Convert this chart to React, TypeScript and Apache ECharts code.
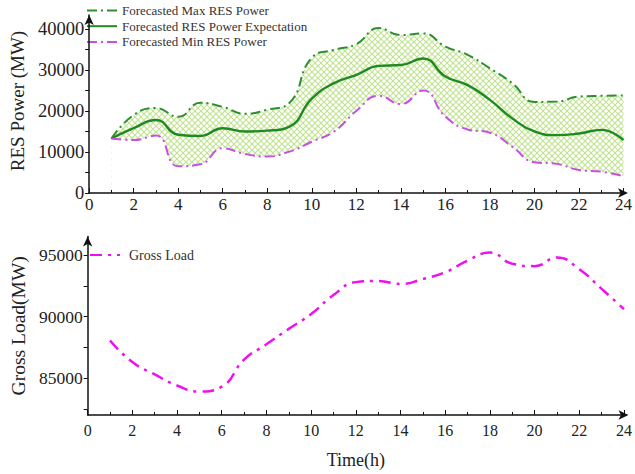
import React, { useEffect, useRef } from "react";
import * as echarts from "echarts";

const hours = [1, 2, 3, 4, 5, 6, 7, 8, 9, 10, 11, 12, 13, 14, 15, 16, 17, 18, 19, 20, 21, 22, 23, 24];
const maxRes = [13300, 19000, 20700, 18600, 22000, 21000, 19300, 20300, 22000, 33000, 34900, 36300, 40200, 38500, 38900, 35700, 33700, 30400, 26800, 22200, 22300, 23500, 23700, 23800];
const expRes = [13300, 15800, 17800, 14200, 13900, 15800, 15000, 15200, 16200, 23000, 26800, 28800, 31000, 31200, 32800, 28400, 26300, 22700, 18200, 15000, 14100, 14500, 15400, 12900];
const minRes = [13300, 12900, 14000, 6500, 7000, 10900, 9500, 8900, 10100, 12500, 15000, 20000, 23700, 21700, 25000, 18600, 15500, 14700, 11300, 7500, 7100, 5600, 5200, 4100];
const grossLoad = [88050, 86300, 85300, 84400, 83900, 84300, 86500, 87750, 89000, 90200, 91750, 92800, 92900, 92650, 93050, 93600, 94550, 95200, 94300, 94100, 94800, 93850, 92250, 90600];

const resLabelValues = [0, 10000, 20000, 30000, 40000];
const resTickValues = [0, 5000, 10000, 15000, 20000, 25000, 30000, 35000, 40000];
const loadLabelValues = [85000, 90000, 95000];
const loadTickValues = [82500, 85000, 87500, 90000, 92500, 95000];

const SERIF = "'Liberation Serif', 'Times New Roman', serif";

const hatchSvg =
  "<svg xmlns='http://www.w3.org/2000/svg' width='6' height='6'><path d='M0 0L6 6M6 0L0 6' stroke='#bfe38f' stroke-width='1.1' fill='none'/></svg>";
const hatchUrl = "data:image/svg+xml;charset=utf-8," + encodeURIComponent(hatchSvg);

export default function App() {
  const ref = useRef<HTMLDivElement>(null);

  useEffect(() => {
    if (!ref.current) return;
    const chart = echarts.init(ref.current, undefined, { renderer: "svg" });

    const pairs = (arr: number[]) => hours.map((h, i) => [h, arr[i]]);
    const plain = (v: number) => String(v);

    const xAxisCommon = (gridIndex: number, labelSize: number, margin: number) => ({
      type: "value" as const,
      gridIndex,
      min: 0,
      max: 24,
      interval: 2,
      z: 10,
      axisLine: {
        show: true,
        lineStyle: { color: "#111", width: 1.5 },
        symbol: ["none", "arrow"],
        symbolSize: [7, 10],
        symbolOffset: [0, 4.5],
      },
      axisTick: { show: true, inside: true, length: 5, lineStyle: { color: "#111", width: 1 } },
      minorTick: { show: true, splitNumber: 2, length: 3, lineStyle: { color: "#111", width: 1 } },
      splitLine: { show: false },
      minorSplitLine: { show: false },
      axisLabel: { fontFamily: SERIF, fontSize: labelSize, color: "#222", margin, formatter: plain },
    });

    const option: any = {
      animation: false,
      backgroundColor: "#fff",
      grid: [
        { left: 77, right: 9.5, top: 15, bottom: 281 },
        { left: 77, right: 9.5, top: 236.6, bottom: 59 },
      ],
      legend: [
        {
          orient: "vertical",
          left: 81,
          top: -1,
          itemWidth: 30,
          itemHeight: 14,
          itemGap: 2.7,
          itemStyle: { opacity: 0 },
          textStyle: { fontFamily: SERIF, fontSize: 13, color: "#333" },
          data: ["Forecasted Max RES Power", "Forecasted RES Power Expectation", "Forecasted Min RES Power"],
        },
        {
          orient: "vertical",
          left: 84,
          top: 243,
          itemWidth: 30,
          itemHeight: 14,
          itemStyle: { opacity: 0 },
          textStyle: { fontFamily: SERIF, fontSize: 14, color: "#333", padding: [0, 0, 0, 4] },
          data: ["Gross Load"],
        },
      ],
      xAxis: [
        xAxisCommon(0, 17, 3),
        {
          ...xAxisCommon(1, 16, 7),
          name: "Time(h)",
          nameLocation: "middle",
          nameGap: 36,
          nameTextStyle: { fontFamily: SERIF, fontSize: 18, color: "#222" },
        },
      ],
      yAxis: [
        {
          type: "value",
          gridIndex: 0,
          min: 0,
          max: 43400,
          z: 10,
          name: "RES Power (MW)",
          nameLocation: "middle",
          nameGap: 52,
          nameTextStyle: { fontFamily: SERIF, fontSize: 19, color: "#222", padding: [0, 0, 0, 6] },
          axisLine: {
            show: true,
            lineStyle: { color: "#111", width: 1.5 },
            symbol: ["none", "arrow"],
            symbolSize: [7, 10],
          },
          axisTick: { show: true, length: 4, customValues: resTickValues, lineStyle: { color: "#111", width: 1 } },
          axisLabel: { fontFamily: SERIF, fontSize: 18.5, color: "#222", margin: 5, customValues: resLabelValues, formatter: plain },
          splitLine: { show: false },
        },
        {
          type: "value",
          gridIndex: 1,
          min: 82000,
          max: 96500,
          z: 10,
          name: "Gross Load(MW)",
          nameLocation: "middle",
          nameGap: 53,
          nameTextStyle: { fontFamily: SERIF, fontSize: 19.5, color: "#222" },
          axisLine: {
            show: true,
            lineStyle: { color: "#111", width: 1.5 },
            symbol: ["none", "arrow"],
            symbolSize: [7, 10],
          },
          axisTick: { show: true, length: 4, customValues: loadTickValues, lineStyle: { color: "#111", width: 1 } },
          axisLabel: { fontFamily: SERIF, fontSize: 17.5, color: "#222", margin: 5, customValues: loadLabelValues, formatter: plain },
          splitLine: { show: false },
        },
      ],
      series: [
        {
          name: "_bandTop",
          type: "line",
          xAxisIndex: 0,
          yAxisIndex: 0,
          smooth: true,
          symbol: "none",
          silent: true,
          lineStyle: { opacity: 0 },
          areaStyle: {
            color: { image: hatchUrl, repeat: "repeat", imageWidth: 6, imageHeight: 6 },
            opacity: 1,
          },
          data: pairs(maxRes),
        },
        {
          name: "_bandMask",
          type: "line",
          xAxisIndex: 0,
          yAxisIndex: 0,
          smooth: true,
          symbol: "none",
          silent: true,
          lineStyle: { opacity: 0 },
          areaStyle: { color: "#ffffff", opacity: 1 },
          data: pairs(minRes),
        },
        {
          name: "Forecasted Max RES Power",
          type: "line",
          xAxisIndex: 0,
          yAxisIndex: 0,
          smooth: true,
          symbol: "none",
          color: "#2f8f2f",
          lineStyle: { color: "#2f8f2f", width: 2, type: [10, 4, 2, 4] },
          data: pairs(maxRes),
        },
        {
          name: "Forecasted RES Power Expectation",
          type: "line",
          xAxisIndex: 0,
          yAxisIndex: 0,
          smooth: true,
          symbol: "none",
          color: "#1f8a1f",
          lineStyle: { color: "#1f8a1f", width: 2.4, type: "solid" },
          data: pairs(expRes),
        },
        {
          name: "Forecasted Min RES Power",
          type: "line",
          xAxisIndex: 0,
          yAxisIndex: 0,
          smooth: true,
          symbol: "none",
          color: "#c64fe4",
          lineStyle: { color: "#c64fe4", width: 2, type: [10, 4, 2, 4] },
          data: pairs(minRes),
        },
        {
          name: "Gross Load",
          type: "line",
          xAxisIndex: 1,
          yAxisIndex: 1,
          smooth: true,
          symbol: "none",
          color: "#ee11ee",
          lineStyle: { color: "#ee11ee", width: 2.5, type: [12, 6, 3, 6] },
          data: pairs(grossLoad),
        },
      ],
    };

    chart.setOption(option);
    return () => chart.dispose();
  }, []);

  return <div ref={ref} style={{ width: 635, height: 474, position: "absolute", left: 0, top: 0 }} />;
}
